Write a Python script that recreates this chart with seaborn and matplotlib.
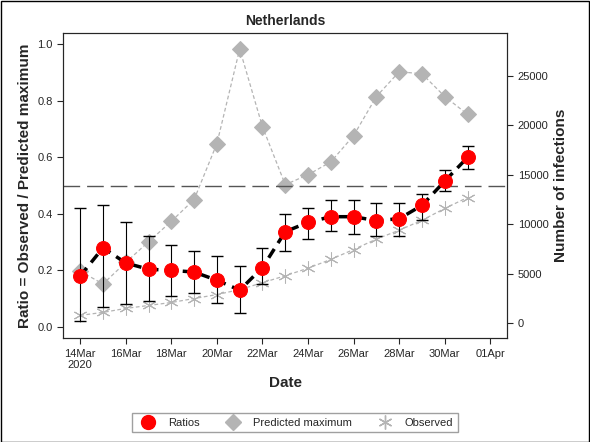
import numpy as np
import pandas as pd
import matplotlib
matplotlib.use("Agg")
import matplotlib.pyplot as plt
import seaborn as sns
from matplotlib.lines import Line2D
from matplotlib.patches import Rectangle

sns.set_style("white")
plt.rcParams['font.family'] = ['Liberation Sans', 'DejaVu Sans']

dates = pd.date_range("2020-03-14", "2020-03-31")
ratio = [0.18, 0.28, 0.226, 0.204, 0.20, 0.194, 0.165, 0.13, 0.21, 0.337, 0.37, 0.39,
         0.39, 0.376, 0.383, 0.43, 0.516, 0.60]
ratio_lo = [0.02, 0.07, 0.08, 0.09, 0.11, 0.12, 0.085, 0.05, 0.15, 0.27, 0.31, 0.34,
            0.33, 0.32, 0.32, 0.38, 0.48, 0.56]
ratio_hi = [0.42, 0.43, 0.37, 0.32, 0.29, 0.27, 0.25, 0.215, 0.28, 0.40, 0.42, 0.45,
            0.45, 0.44, 0.44, 0.47, 0.555, 0.64]
predicted = [5260, 3970, 6150, 8230, 10300, 12500, 18150, 27700, 19840, 14000, 15000,
             16300, 18950, 22900, 25400, 25200, 22900, 21100]
observed = [800, 1100, 1500, 1800, 2100, 2500, 2900, 3400, 4100, 4800, 5560, 6450,
            7450, 8500, 9400, 10400, 11600, 12700]
tick_labels = ["14Mar\n2020", "16Mar", "18Mar", "20Mar", "22Mar", "24Mar", "26Mar",
               "28Mar", "30Mar", "01Apr"]

df = pd.DataFrame({"date": dates, "ratio": ratio, "lo": ratio_lo, "hi": ratio_hi,
                   "predicted": predicted, "observed": observed})

fig, ax = plt.subplots(figsize=(5.9, 4.42), dpi=100)
ax2 = ax.twinx()

gray = "#b4b4b4"
sns.lineplot(data=df, x="date", y="predicted", ax=ax2, color=gray, lw=0.9,
             linestyle=(0, (3, 2)), marker="D", markersize=8, markeredgecolor=gray)
sns.lineplot(data=df, x="date", y="observed", ax=ax2, color=gray, lw=0.9,
             linestyle=(0, (3, 2)), marker=(6, 2, 0), markersize=10, markeredgecolor=gray)
ax2.set_ylim(-1500, 29300)
ax2.set_ylabel("Number of infections", fontsize=11, fontweight="bold")
ax2.set_yticks([0, 5000, 10000, 15000, 20000, 25000])
ax2.tick_params(labelsize=8)

ax.set_zorder(ax2.get_zorder() + 1)
ax.patch.set_visible(False)
ax.axhline(0.5, color="#555555", lw=1, dashes=(12, 5))
ax.errorbar(df["date"], df["ratio"],
            yerr=[df["ratio"] - df["lo"], df["hi"] - df["ratio"]],
            fmt="none", ecolor="black", elinewidth=0.8, capsize=4)
sns.lineplot(data=df, x="date", y="ratio", ax=ax, color="black", lw=2.5,
             linestyle=(0, (3, 2)), marker="o", markersize=10,
             markerfacecolor="red", markeredgecolor="red")
ax.set_ylim(-0.04, 1.04)
ax.set_yticks(np.arange(0, 1.01, 0.2))
ax.yaxis.set_major_formatter(plt.FormatStrFormatter("%.1f"))
ax.set_ylabel("Ratio = Observed / Predicted maximum", fontsize=11, fontweight="bold")
ax.set_xlabel("Date", fontsize=11, fontweight="bold")
ax.set_xlim(pd.Timestamp("2020-03-13 06:00"), pd.Timestamp("2020-04-01 18:00"))
ax.set_xticks(pd.date_range("2020-03-14", "2020-04-01", freq="2D"))
ax.set_xticklabels(tick_labels)
ax.tick_params(labelsize=8)
for a in (ax, ax2):
    a.tick_params(length=4, direction="out")
ax.tick_params(left=True, bottom=True)
ax2.tick_params(right=True)
ax.set_title("Netherlands", fontsize=10, fontweight="bold")

handles = [
    Line2D([], [], marker="o", color="red", ls="none", markersize=10),
    Line2D([], [], marker="D", color=gray, ls="none", markersize=8),
    Line2D([], [], marker=(6, 2, 0), color=gray, markeredgecolor=gray, ls="none", markersize=10),
]
fig.legend(handles, ["Ratios", "Predicted maximum", "Observed"], loc="lower center",
           ncol=3, fontsize=8, frameon=True, edgecolor="#888888", fancybox=False,
           bbox_to_anchor=(0.5, 0.01))
fig.patches.append(Rectangle((0.001, 0.001), 0.997, 0.997, transform=fig.transFigure,
                             fill=False, edgecolor="black", lw=1))
fig.subplots_adjust(left=0.107, right=0.86, top=0.925, bottom=0.235)
fig.savefig("out.png", dpi=100)
